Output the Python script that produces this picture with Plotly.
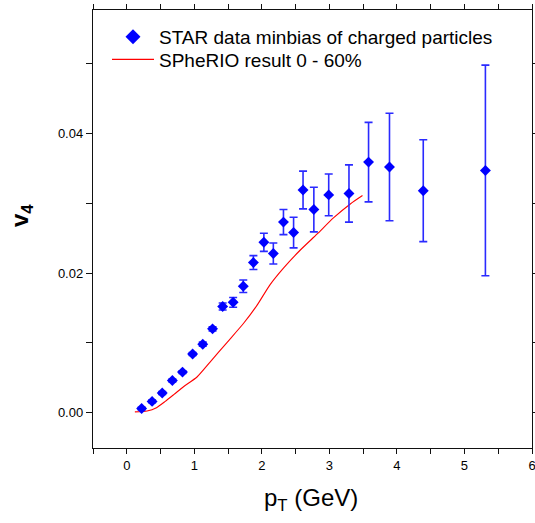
import plotly.graph_objects as go

# STAR data (minbias, charged particles)
pt = [0.22, 0.375, 0.525, 0.675, 0.825, 0.975, 1.125, 1.27, 1.42, 1.575, 1.725, 1.875,
      2.03, 2.17, 2.32, 2.47, 2.61, 2.77, 2.99, 3.29, 3.58, 3.89, 4.39, 5.31]
v4 = [0.00057, 0.0016, 0.0028, 0.0046, 0.0058, 0.0084, 0.0098, 0.0120, 0.0152, 0.0158, 0.0181, 0.0215,
      0.0244, 0.0228, 0.0273, 0.0258, 0.0319, 0.0291, 0.0312, 0.0314, 0.0359, 0.0352, 0.0318, 0.0347]
v4_err = [0.0002, 0.0002, 0.0002, 0.0002, 0.0002, 0.0002, 0.0003, 0.0003, 0.0005, 0.0007, 0.0009, 0.0010,
          0.0013, 0.0015, 0.0018, 0.0022, 0.0027, 0.0032, 0.0030, 0.0041, 0.0057, 0.0077, 0.0073, 0.0151]

# SPheRIO result 0 - 60%
sph_pt = [0.12, 0.30, 0.44, 0.57, 0.70, 0.84, 1.04, 1.23, 1.48, 1.73, 1.93, 2.12, 2.32, 2.57,
          2.82, 3.06, 3.31, 3.49]
sph_v4 = [0.0001, 0.00023, 0.0007, 0.0016, 0.0026, 0.0037, 0.0051, 0.0072, 0.0100, 0.0128, 0.0154,
          0.0183, 0.0207, 0.0233, 0.0256, 0.0279, 0.0299, 0.0311]

x_tickvals = [-0.5, 0, 0.5, 1, 1.5, 2, 2.5, 3, 3.5, 4, 4.5, 5, 5.5, 6]
x_ticktext = ["", "0", "", "1", "", "2", "", "3", "", "4", "", "5", "", "6"]
y_tickvals = [0.0, 0.01, 0.02, 0.03, 0.04, 0.05]
y_ticktext = ["0.00", "", "0.02", "", "0.04", ""]

legend_names = ["STAR data minbias of charged particles", "SPheRIO result 0 - 60%"]

FONT = "Liberation Sans, Arial, sans-serif"

fig = go.Figure()

fig.add_trace(go.Scatter(
    x=sph_pt, y=sph_v4, mode="lines",
    line=dict(color="#ff0000", width=1.1, shape="spline", smoothing=0.6),
    showlegend=False, hoverinfo="skip"))

fig.add_trace(go.Scatter(
    x=pt, y=v4, mode="markers",
    marker=dict(symbol="diamond", size=8.4, color="#0000ff", line=dict(width=0)),
    error_y=dict(type="data", array=v4_err, visible=True, color="#2a2aff",
                 thickness=1.6, width=4),
    showlegend=False))

# legend entries (two independent legends so row spacing can match)
fig.add_trace(go.Scatter(
    x=[None], y=[None], mode="markers", name=legend_names[0], legend="legend",
    marker=dict(symbol="diamond", size=11.5, color="#0000ff", line=dict(width=0))))
fig.add_trace(go.Scatter(
    x=[None], y=[None], mode="lines", name=legend_names[1], legend="legend2",
    line=dict(color="#ff0000", width=1.1)))

axis_common = dict(
    showline=True, linecolor="#111", linewidth=1.4, mirror="ticks",
    ticks="outside", tickcolor="#111", tickwidth=1.2,
    showgrid=False, zeroline=False, automargin=False, ticklabeloverflow="allow",
    tickfont=dict(family=FONT, size=13, color="black"),
)

fig.update_xaxes(range=[-0.5, 6], tickmode="array", tickvals=x_tickvals,
                 ticktext=x_ticktext, ticklen=5, **axis_common)
fig.update_yaxes(range=[-0.00508, 0.0577], tickmode="array", tickvals=y_tickvals,
                 ticktext=y_ticktext, ticklen=6, **axis_common)

PL, PR, PT, PB = 93, 3, 10, 75
W, H = 535, 523
pw, ph = W - PL - PR, H - PT - PB

def px_x(p):
    return (p - PL) / pw

def px_y(p):
    return (H - PB - p) / ph

leg_common = dict(xanchor="left", yanchor="top", bgcolor="rgba(0,0,0,0)", borderwidth=0,
                  font=dict(family=FONT, size=19, color="black"), itemwidth=42)

fig.update_layout(
    width=W, height=H,
    margin=dict(l=PL, r=PR, t=PT, b=PB, pad=0, autoexpand=False),
    paper_bgcolor="white", plot_bgcolor="white",
    font=dict(family=FONT, color="black"),
    legend=dict(x=px_x(107), y=px_y(18), **leg_common),
    legend2=dict(x=px_x(107), y=px_y(40.5), **leg_common),
    annotations=[
        dict(text="p<sub>T</sub> (GeV)", xref="paper", yref="paper",
             x=px_x(311), y=px_y(500), xanchor="center", yanchor="middle",
             showarrow=False, font=dict(family=FONT, size=24, color="black")),
        dict(text="<b>v</b><sub><b>4</b></sub>", xref="paper", yref="paper",
             x=px_x(21), y=px_y(216), xanchor="center", yanchor="middle",
             textangle=-90, showarrow=False,
             font=dict(family=FONT, size=24, color="black")),
    ],
)

fig.write_html("out.html")
